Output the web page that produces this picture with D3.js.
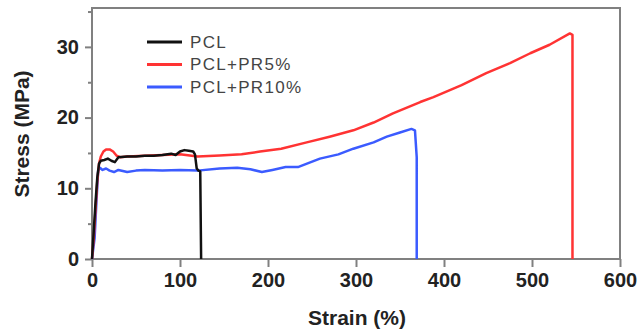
<!DOCTYPE html>
<html>
<head>
<meta charset="utf-8">
<script src="https://cdn.jsdelivr.net/npm/d3@7"></script>
<style>
  body { margin: 0; background: #fff; }
  svg { display: block; font-family: Arial, "Liberation Sans", sans-serif; }
</style>
</head>
<body>
<svg id="chart" width="638" height="332"></svg>
<script>
// series: strain (%) and stress (MPa)
const pclStrain = [0, 2, 4, 6, 8, 10, 14, 18, 22, 26, 30, 40, 50, 60, 70, 80, 90, 95, 100, 105, 110, 115, 117, 119, 121, 123, 124]
const pclStress = [0, 4, 8, 11.5, 13.5, 13.9, 14.0, 14.2, 13.9, 13.7, 14.4, 14.5, 14.5, 14.6, 14.6, 14.7, 14.9, 14.7, 15.2, 15.4, 15.3, 15.2, 14.8, 12.8, 12.5, 12.4, 0]

const pr5Strain = [0, 2, 4, 6, 8, 10, 13, 16, 20, 24, 28, 32, 40, 60, 80, 100, 120, 145, 170, 191, 215, 244, 270, 297, 320, 342, 373, 388, 420, 448, 475, 498, 520, 543, 546, 546]
const pr5Stress = [0, 3, 7, 11, 13.5, 14.5, 15.2, 15.5, 15.5, 15.2, 14.6, 14.4, 14.5, 14.6, 14.7, 14.8, 14.5, 14.65, 14.8, 15.2, 15.6, 16.5, 17.3, 18.2, 19.3, 20.6, 22.2, 22.9, 24.6, 26.3, 27.7, 29.1, 30.3, 31.9, 31.7, 0]

const pr10Strain = [0, 3, 5, 7, 9, 12, 16, 20, 25, 30, 40, 50, 60, 80, 100, 120, 145, 165, 180, 193, 205, 220, 234, 259, 280, 297, 320, 335, 350, 363, 367, 369, 369]
const pr10Stress = [0, 3, 8, 12.5, 12.9, 12.6, 12.8, 12.5, 12.3, 12.6, 12.3, 12.5, 12.6, 12.5, 12.6, 12.5, 12.8, 12.9, 12.7, 12.3, 12.6, 13.0, 13.0, 14.2, 14.8, 15.6, 16.5, 17.3, 17.9, 18.4, 18.2, 14.4, 0]

const seriesNames = ['PCL', 'PCL+PR5%', 'PCL+PR10%']
const seriesColors = ['#111111', '#ff3333', '#3b5bff']
const xTicks = [0, 100, 200, 300, 400, 500, 600]
const yTicks = [0, 10, 20, 30]
const yMinorTicks = [5, 15, 25, 35]

const series = [
  pclStrain.map((x, i) => [x, pclStress[i]]),
  pr5Strain.map((x, i) => [x, pr5Stress[i]]),
  pr10Strain.map((x, i) => [x, pr10Stress[i]])
]

const margin = { top: 8, right: 18, bottom: 73, left: 92 }
const width = 638, height = 332
const svg = d3.select('#chart')

const x = d3.scaleLinear().domain([0, 600]).range([margin.left, width - margin.right])
const y = d3.scaleLinear().domain([0, 35.5]).range([height - margin.bottom, margin.top])

const frameColor = '#808080'

// y axis
const yAxis = svg.append('g')
  .attr('transform', `translate(${margin.left},0)`)
  .call(d3.axisLeft(y).tickValues(yTicks).tickSize(7).tickPadding(6))
yAxis.selectAll('text')
  .style('font-size', '20px').style('font-weight', 'bold').attr('fill', '#222')
svg.append('g')
  .attr('transform', `translate(${margin.left},0)`)
  .call(d3.axisLeft(y).tickValues(yMinorTicks).tickSize(4).tickFormat(''))
  .call((g) => g.select('.domain').remove())

// x axis
const xAxis = svg.append('g')
  .attr('transform', `translate(0,${height - margin.bottom})`)
  .call(d3.axisBottom(x).tickValues(xTicks).tickSize(8).tickPadding(6))
xAxis.selectAll('text')
  .style('font-size', '20px').style('font-weight', 'bold').attr('fill', '#222')

svg.selectAll('.tick line').attr('stroke', frameColor).attr('stroke-width', 2)
svg.selectAll('.domain').remove()

// frame box
svg.append('rect')
  .attr('x', x(0)).attr('y', y(35.5))
  .attr('width', x(600) - x(0)).attr('height', y(0) - y(35.5))
  .attr('fill', 'none').attr('stroke', frameColor).attr('stroke-width', 2)

// curves
const line = d3.line().x((d) => x(d[0])).y((d) => y(d[1]))
svg.append('g').selectAll('path')
  .data(series.map((s, i) => ({ s, i })).reverse())
  .enter()
  .append('path')
  .attr('d', (d) => line(d.s))
  .attr('fill', 'none')
  .attr('stroke', (d) => seriesColors[d.i])
  .attr('stroke-width', 2.5)
  .attr('stroke-linejoin', 'round')

// legend
const legend = svg.append('g')
seriesNames.forEach((name, i) => {
  const ly = 42 + i * 22.5
  legend.append('line')
    .attr('x1', 147).attr('x2', 182).attr('y1', ly).attr('y2', ly)
    .attr('stroke', seriesColors[i]).attr('stroke-width', 3)
  legend.append('text')
    .attr('x', 190).attr('y', ly).attr('dy', '0.35em')
    .style('font-size', '17px').style('letter-spacing', '1.3px')
    .attr('fill', '#444')
    .text(name)
})

// axis titles
svg.append('text')
  .attr('x', (x(0) + x(600)) / 2 + 1).attr('y', 318).attr('dy', '0.35em')
  .attr('text-anchor', 'middle')
  .style('font-size', '21px').style('font-weight', 'bold').attr('fill', '#222')
  .text('Strain (%)')

svg.append('text')
  .attr('transform', 'translate(22,134) rotate(-90)')
  .attr('dy', '0.35em')
  .attr('text-anchor', 'middle')
  .style('font-size', '21px').style('font-weight', 'bold').attr('fill', '#222')
  .text('Stress (MPa)')
</script>
</body>
</html>
